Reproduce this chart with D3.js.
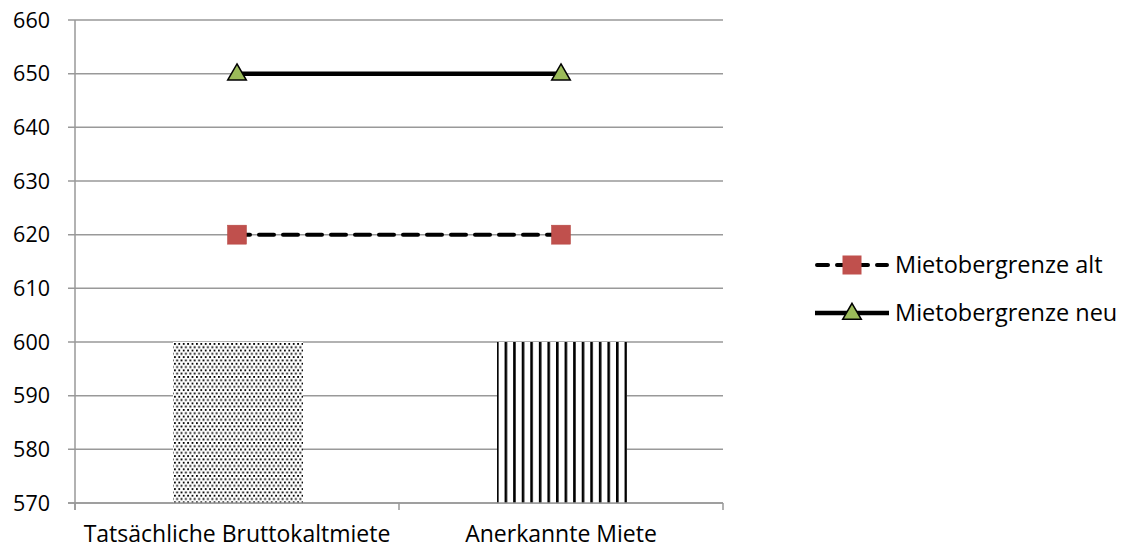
<!DOCTYPE html>
<html><head><meta charset="utf-8">
<script src="https://cdn.jsdelivr.net/npm/d3@7"></script>
<style>body{margin:0;background:#fff}svg{display:block}</style>
</head><body>
<svg id="c" width="1123" height="551"></svg>
<script>
const categories = ["Tatsächliche Bruttokaltmiete", "Anerkannte Miete"];
const barValues = [600, 600];
const altValues = [620, 620];
const neuValues = [650, 650];
const yTicks = [570, 580, 590, 600, 610, 620, 630, 640, 650, 660];
const seriesNames = ["Mietobergrenze alt", "Mietobergrenze neu"];

const svg = d3.select("#c");
const font = "'Open Sans', sans-serif";
const L = 75, R = 723, T = 20, B = 503;
const x = d3.scaleBand().domain(categories).range([L, R]);
const y = d3.scaleLinear().domain([570, 660]).range([B, T]);

const defs = svg.append("defs");
const p1 = defs.append("pattern").attr("id", "dots").attr("patternUnits", "userSpaceOnUse")
  .attr("width", 4.4).attr("height", 6.6).attr("x", 174).attr("y", 343);
p1.append("rect").attr("width", 4.4).attr("height", 6.6).attr("fill", "#fff");
p1.append("rect").attr("x", 0).attr("y", 0).attr("width", 1.8).attr("height", 1.8).attr("fill", "#000");
p1.append("rect").attr("x", 2.2).attr("y", 3.3).attr("width", 1.8).attr("height", 1.8).attr("fill", "#000");
const p2 = defs.append("pattern").attr("id", "vstripes").attr("patternUnits", "userSpaceOnUse")
  .attr("width", 8.57).attr("height", 10).attr("x", 496);
p2.append("rect").attr("width", 8.57).attr("height", 10).attr("fill", "#fff");
p2.append("rect").attr("x", 0).attr("width", 2.6).attr("height", 10).attr("fill", "#000");

// gridlines
svg.append("g").selectAll("line").data(yTicks).join("line")
  .attr("x1", L - 7).attr("x2", R).attr("y1", d => y(d)).attr("y2", d => y(d))
  .attr("stroke", "#999").attr("stroke-width", 1.5);

// y axis line
svg.append("line").attr("x1", L).attr("x2", L).attr("y1", T).attr("y2", B + 7)
  .attr("stroke", "#999").attr("stroke-width", 1.5);
// x ticks
const xt = [L, (L + R) / 2, R];
svg.append("g").selectAll("line").data(xt).join("line")
  .attr("x1", d => d).attr("x2", d => d).attr("y1", B).attr("y2", B + 7)
  .attr("stroke", "#999").attr("stroke-width", 1.5);

// y labels
svg.append("g").selectAll("text").data(yTicks).join("text")
  .attr("x", 50).attr("y", d => y(d)).attr("dy", "0.36em").attr("text-anchor", "end")
  .attr("font-family", font).attr("font-size", 21.5).attr("fill", "#000").text(d => d);

// bars
const bw = 130;
svg.append("g").selectAll("rect").data(categories).join("rect")
  .attr("x", d => x(d) + x.bandwidth() / 2 - bw / 2 + 1)
  .attr("width", bw)
  .attr("y", (d, i) => y(barValues[i]))
  .attr("height", (d, i) => y(570) - y(barValues[i]))
  .attr("fill", (d, i) => i === 0 ? "url(#dots)" : "url(#vstripes)");

// redraw bottom axis line over bars
svg.append("line").attr("x1", L - 7).attr("x2", R).attr("y1", B).attr("y2", B)
  .attr("stroke", "#999").attr("stroke-width", 1.5);

// x labels
svg.append("g").selectAll("text").data(categories).join("text")
  .attr("x", d => x(d) + x.bandwidth() / 2).attr("y", 542).attr("text-anchor", "middle")
  .attr("font-family", font).attr("font-size", 23).attr("fill", "#000").text(d => d);

const cx = d => x(d) + x.bandwidth() / 2;
const line = d3.line().x(d => cx(d.c)).y(d => y(d.v));
const altData = categories.map((c, i) => ({c, v: altValues[i]}));
const neuData = categories.map((c, i) => ({c, v: neuValues[i]}));

svg.append("path").datum(altData).attr("d", line).attr("fill", "none")
  .attr("stroke", "#000").attr("stroke-width", 4).attr("stroke-dasharray", "15,9")
  .attr("stroke-dashoffset", 2)
  .attr("stroke-linecap", "round");
svg.append("path").datum(neuData).attr("d", line).attr("fill", "none")
  .attr("stroke", "#000").attr("stroke-width", 4.5);

const sq = 19;
svg.append("g").selectAll("rect").data(altData).join("rect")
  .attr("x", d => cx(d.c) - sq / 2).attr("y", d => y(d.v) - sq / 2)
  .attr("width", sq).attr("height", sq).attr("fill", "#C0504D").attr("stroke", "#B4453F").attr("stroke-width", 0.5);

const tri = d3.symbol().type(d3.symbolTriangle).size(150);
svg.append("g").selectAll("path").data(neuData).join("path")
  .attr("d", tri).attr("transform", d => `translate(${cx(d.c)},${y(d.v) + 1})`)
  .attr("fill", "#9BBB59").attr("stroke", "#000").attr("stroke-width", 1.5);

// legend
const lg = svg.append("g");
const ly = [265, 313];
lg.append("line").attr("x1", 817).attr("x2", 887).attr("y1", ly[0]).attr("y2", ly[0])
  .attr("stroke", "#000").attr("stroke-width", 4).attr("stroke-dasharray", "11,9").attr("stroke-linecap", "round");
lg.append("rect").attr("x", 852 - sq / 2).attr("y", ly[0] - sq / 2).attr("width", sq).attr("height", sq)
  .attr("fill", "#C0504D");
lg.append("line").attr("x1", 815).attr("x2", 889).attr("y1", ly[1]).attr("y2", ly[1])
  .attr("stroke", "#000").attr("stroke-width", 4.5);
lg.append("path").attr("d", tri).attr("transform", `translate(852,${ly[1] + 1})`)
  .attr("fill", "#9BBB59").attr("stroke", "#000").attr("stroke-width", 1.5);
lg.selectAll("text").data(seriesNames).join("text")
  .attr("x", 895).attr("y", (d, i) => ly[i]).attr("dy", "0.36em")
  .attr("font-family", font).attr("font-size", 23.5).attr("fill", "#000").text(d => d);
</script>
</body></html>
